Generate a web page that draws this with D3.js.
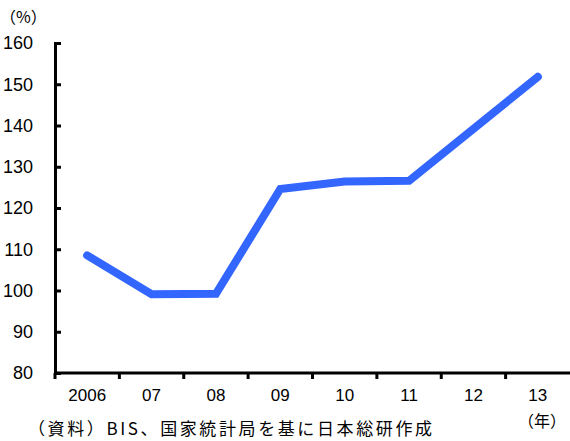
<!DOCTYPE html>
<html>
<head>
<meta charset="utf-8">
<script src="https://cdn.jsdelivr.net/npm/d3@7"></script>
<style>
  body { margin: 0; background: #fff; }
  text { font-family: "Liberation Sans", "Noto Sans CJK JP", sans-serif; fill: #000; }
  .jp { font-family: "Noto Sans CJK JP", sans-serif; }
</style>
</head>
<body>
<div id="chart"></div>
<script>
var years = ["2006", "07", "08", "09", "10", "11", "12", "13"];
var ratio = [108.5, 99.1, 99.2, 124.6, 126.4, 126.6, 139.2, 151.8];
var yTicks = [80, 90, 100, 110, 120, 130, 140, 150, 160];

var svgWidth = 570;
var svgHeight = 441;

var margin = { top: 43, right: 0, bottom: 68, left: 55 };

var width = svgWidth - margin.left - margin.right;
var height = svgHeight - margin.top - margin.bottom;

var svg = d3.select("#chart")
  .append("svg")
  .attr("width", svgWidth)
  .attr("height", svgHeight);

var chartGroup = svg.append("g")
  .attr("transform", `translate(${margin.left}, ${margin.top})`);

var xBand = d3.scaleBand()
  .domain(years)
  .range([0, width]);

var yLinearScale = d3.scaleLinear()
  .domain([80, 160])
  .range([height, 0]);

// y axis: ticks point inward
var leftAxis = d3.axisLeft(yLinearScale)
  .tickValues(yTicks)
  .tickSize(-6)
  .tickPadding(22);

var yAxis = chartGroup.append("g").call(leftAxis);
yAxis.select(".domain").attr("stroke-width", 3);
yAxis.selectAll(".tick line").attr("stroke-width", 3);
yAxis.selectAll(".tick text")
  .style("font-size", "18px");

// x axis: ticks on band boundaries
var bottomAxis = d3.axisBottom(xBand)
  .tickSize(0)
  .tickPadding(16);

var xAxis = chartGroup.append("g")
  .attr("transform", `translate(0, ${height})`)
  .call(bottomAxis);
xAxis.select(".domain").attr("stroke-width", 3).attr("d", `M0,0H${width}`);
xAxis.selectAll(".tick text").style("font-size", "17px");

xAxis.selectAll(".bound")
  .data(years)
  .enter()
  .append("line")
  .attr("x1", d => xBand(d))
  .attr("x2", d => xBand(d))
  .attr("y1", 0)
  .attr("y2", 6)
  .attr("stroke", "#000")
  .attr("stroke-width", 3);

// line
var line = d3.line()
  .x((d, i) => xBand(years[i]) + xBand.bandwidth() / 2)
  .y(d => yLinearScale(d));

chartGroup.append("path")
  .datum(ratio)
  .attr("d", line)
  .attr("fill", "none")
  .attr("stroke", "#3366ff")
  .attr("stroke-width", 8)
  .attr("stroke-linecap", "round")
  .attr("stroke-linejoin", "miter");

// labels
svg.append("text")
  .attr("class", "jp")
  .attr("x", 0)
  .attr("y", 23)
  .style("font-size", "16px")
  .text("（%）");

svg.append("text")
  .attr("class", "jp")
  .attr("x", 518)
  .attr("y", 427)
  .style("font-size", "16px")
  .text("（年）");

svg.append("text")
  .attr("class", "jp")
  .attr("x", 28)
  .attr("y", 435)
  .attr("textLength", 404)
  .attr("lengthAdjust", "spacing")
  .style("font-size", "17px")
  .text("（資料）BIS、国家統計局を基に日本総研作成");
</script>
</body>
</html>
